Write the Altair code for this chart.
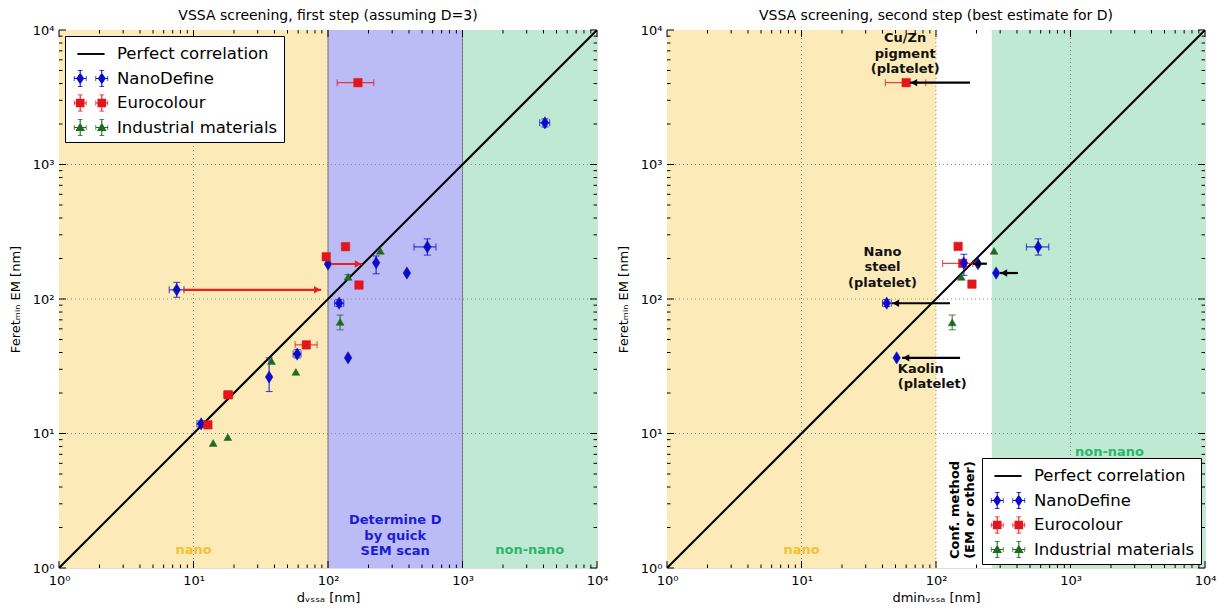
import altair as alt
import pandas as pd

# ---------------- data ----------------
SERIES = ["Perfect correlation", "NanoDefine", "Eurocolour", "Industrial materials"]
COLORS = ["#000000", "#0b0bc8", "#e3161c", "#1d6b1d"]

DIAG = [1, 10000]
DECADES = [1, 10, 100, 1000, 10000]

# Step 1: x = d_VSSA (assuming D=3), y = Feret_min EM
ND1_x = [7.5, 11.4, 36.5, 59, 100, 121, 141, 228, 386, 548, 4100]
ND1_y = [117, 11.8, 26.3, 39, 182, 93, 36.5, 186, 156, 244, 2040]
ND1_xlo = [6.6, 10.6, 36.5, 55, 100, 112, 141, 228, 386, 436, 3750]
ND1_xhi = [8.5, 12.2, 36.5, 63, 100, 131, 141, 228, 386, 635, 4450]
ND1_ylo = [103, 11.2, 20.5, 36.5, 182, 88, 36.5, 154, 156, 212, 1900]
ND1_yhi = [133, 12.4, 36.5, 42, 182, 99, 36.5, 209, 156, 280, 2180]

EC1_x = [12.8, 18.1, 69, 97, 135, 167, 170]
EC1_y = [11.6, 19.4, 45.6, 206, 245, 4060, 127]
EC1_xlo = [12.8, 16.8, 57, 97, 135, 117, 170]
EC1_xhi = [12.8, 19.6, 83, 97, 135, 219, 170]

IM1_x = [14, 18, 38, 57.7, 123, 141, 245]
IM1_y = [8.5, 9.4, 34.6, 28.7, 67.5, 146, 228]
IM1_ylo = [8.5, 9.4, 34.6, 28.7, 59, 140, 228]
IM1_yhi = [8.5, 9.4, 34.6, 28.7, 76, 152, 228]

# Step 2: x = dmin_VSSA (best estimate for D)
ND2_x = [43, 51, 161, 205, 280, 575]
ND2_y = [93, 36.5, 185, 183, 156, 244]
ND2_xlo = [40, 51, 161, 205, 280, 470]
ND2_xhi = [46.5, 51, 161, 205, 280, 690]
ND2_ylo = [88, 36.5, 150, 183, 156, 212]
ND2_yhi = [99, 36.5, 215, 183, 156, 280]

EC2_x = [60, 146, 158, 185]
EC2_y = [4060, 246, 184, 129]
EC2_xlo = [42, 146, 112, 185]
EC2_xhi = [84, 146, 188, 185]

IM2_x = [132, 154, 270]
IM2_y = [67, 146, 228]
IM2_ylo = [59, 146, 228]
IM2_yhi = [76, 146, 228]

# arrows (start x, end x, y)
ARR1_x0 = [8.4, 105]
ARR1_x1 = [89, 179]
ARR1_y = [117, 182]
ARR2_x0 = [179, 127, 151, 239, 407]
ARR2_x1 = [64, 47, 56, 188, 299]
ARR2_y = [4060, 93, 36.5, 183, 156]

# shaded regions
REG1_lo = [1, 100, 1000]
REG1_hi = [100, 1000, 10000]
REG1_col = ["#fcebb9", "#bbbbf6", "#bfe9d3"]
REG2_lo = [1, 100, 260]
REG2_hi = [100, 260, 10000]
REG2_col = ["#fcebb9", "#ffffff", "#bfe9d3"]

# ---------------- styling ----------------
FONT = "DejaVu Sans"
W = 538
H = 538
SUP = "['\u2070','\u00b9','\u00b2','\u00b3','\u2074']"
LABEL_EXPR = "'10' + " + SUP + "[round(log(datum.value)/LN10)]"


def rect(x0, y0, x1, y1):
    return f"M{x0:.3f},{y0:.3f}H{x1:.3f}V{y1:.3f}H{x0:.3f}Z"


def legend_path(kind):
    if kind == "line":
        return rect(-1.13, -0.08, 1.13, 0.08)
    parts = []
    for c in (-0.9, 0.9):
        parts.append(rect(c - 0.5, -0.045, c + 0.5, 0.045))
        parts.append(rect(c - 0.045, -0.67, c + 0.045, 0.67))
        parts.append(rect(c - 0.53, -0.2, c - 0.47, 0.2))
        parts.append(rect(c + 0.47, -0.2, c + 0.53, 0.2))
        parts.append(rect(c - 0.2, -0.7, c + 0.2, -0.64))
        parts.append(rect(c - 0.2, 0.64, c + 0.2, 0.7))
        if kind == "diamond":
            parts.append(f"M{c:.3f},-0.5L{c+0.33:.3f},0L{c:.3f},0.5L{c-0.33:.3f},0Z")
        elif kind == "square":
            parts.append(rect(c - 0.36, -0.36, c + 0.36, 0.36))
        else:
            parts.append(f"M{c:.3f},-0.42L{c+0.4:.3f},0.3L{c-0.4:.3f},0.3Z")
    return " ".join(parts)


LEG_PATHS = [legend_path("line"), legend_path("diamond"),
             legend_path("square"), legend_path("triangle")]
THIN_DIAMOND = "M0,-1L0.62,0L0,1L-0.62,0Z"
MARKERS = {"NanoDefine": (THIN_DIAMOND, 150), "Eurocolour": ("square", 72),
           "Industrial materials": ("triangle-up", 62)}


def frame(x0, x1, y, ylo=None, yhi=None, xlo=None, xhi=None):
    return pd.DataFrame({
        "x": x0 if x1 is None else x1, "y": y,
        "xlo": xlo if xlo is not None else (x0 if x1 is None else x1),
        "xhi": xhi if xhi is not None else (x0 if x1 is None else x1),
        "ylo": ylo if ylo is not None else y,
        "yhi": yhi if yhi is not None else y,
    })


def panel(title, xtitle, reg_lo, reg_hi, reg_col, edges, series, arrows,
          arrow_color, arrow_dir, texts, legend_orient, legend_offset):
    xs = alt.Scale(type="log", domain=[1, 10000], nice=False)
    ys = alt.Scale(type="log", domain=[1, 10000], nice=False)
    ax = alt.Axis(values=DECADES, labelExpr=LABEL_EXPR, grid=False, ticks=False,
                  domain=False, labelFont=FONT, labelFontSize=13, labelColor="black",
                  labelPadding=6, labelFlush=False, title=xtitle, titleFont=FONT,
                  titleFontSize=13, titleFontWeight="normal", titleColor="black",
                  titlePadding=4)
    ay = alt.Axis(values=DECADES, labelExpr=LABEL_EXPR, grid=False, ticks=False,
                  domain=False, labelFont=FONT, labelFontSize=13, labelColor="black",
                  labelPadding=5, labelFlush=False,
                  title="Feret\u2098\u1d62\u2099 EM [nm]", titleFont=FONT,
                  titleFontSize=13, titleFontWeight="normal", titleColor="black",
                  titlePadding=10)

    def X(f):
        return alt.X(f, type="quantitative", scale=xs, axis=ax)

    def Y(f):
        return alt.Y(f, type="quantitative", scale=ys, axis=ay)

    layers = []
    reg = pd.DataFrame({"lo": reg_lo, "hi": reg_hi, "col": reg_col})
    layers.append(alt.Chart(reg).mark_rect(clip=True).encode(
        x=X("lo"), x2="hi", y=alt.value(0), y2=alt.value(H),
        color=alt.Color("col:N", scale=None)))
    if edges:
        layers.append(alt.Chart(pd.DataFrame({"e": edges})).mark_rule(
            color="#777777", strokeWidth=1).encode(x=X("e"), y=alt.value(0), y2=alt.value(H)))
    # grid
    grid = pd.DataFrame({"g": DECADES[1:-1]})
    layers.append(alt.Chart(grid).mark_rule(color="#8a8a8a", strokeDash=[1, 3],
                                            strokeWidth=1).encode(
        x=X("g"), y=alt.value(0), y2=alt.value(H)))
    layers.append(alt.Chart(grid).mark_rule(color="#8a8a8a", strokeDash=[1, 3],
                                            strokeWidth=1).encode(
        y=Y("g"), x=alt.value(0), x2=alt.value(W)))
    # inward ticks
    minor = pd.DataFrame({"t": [m * 10 ** k for k in range(4) for m in range(2, 10)]})
    major = pd.DataFrame({"t": DECADES})
    for df, L in ((major, 7), (minor, 3.5)):
        layers.append(alt.Chart(df).mark_rule(color="black").encode(
            x=X("t"), y=alt.value(H), y2=alt.value(H - L)))
        layers.append(alt.Chart(df).mark_rule(color="black").encode(
            x=X("t"), y=alt.value(0), y2=alt.value(L)))
        layers.append(alt.Chart(df).mark_rule(color="black").encode(
            y=Y("t"), x=alt.value(0), x2=alt.value(L)))
        layers.append(alt.Chart(df).mark_rule(color="black").encode(
            y=Y("t"), x=alt.value(W), x2=alt.value(W - L)))
    # perfect correlation line
    layers.append(alt.Chart(pd.DataFrame({"a": DIAG, "b": DIAG})).mark_line(
        color="black", strokeWidth=2, clip=True).encode(x=X("a"), y=Y("b")))
    # series
    for name, df in series:
        col = COLORS[SERIES.index(name)]
        shp, sz = MARKERS[name]
        base = alt.Chart(df)
        layers.append(base.transform_filter("datum.xlo < datum.xhi").mark_rule(
            color=col, strokeWidth=1.2, opacity=0.8).encode(x=X("xlo"), x2="xhi", y=Y("y")))
        layers.append(base.transform_filter("datum.ylo < datum.yhi").mark_rule(
            color=col, strokeWidth=1.2, opacity=0.8).encode(y=Y("ylo"), y2="yhi", x=X("x")))
        for f in ("xlo", "xhi"):
            layers.append(base.transform_filter("datum.xlo < datum.xhi").mark_tick(
                orient="vertical", size=7, thickness=1, color=col, opacity=0.8).encode(
                x=X(f), y=Y("y")))
        for f in ("ylo", "yhi"):
            layers.append(base.transform_filter("datum.ylo < datum.yhi").mark_tick(
                orient="horizontal", size=7, thickness=1, color=col, opacity=0.8).encode(
                y=Y(f), x=X("x")))
        layers.append(base.mark_point(filled=True, shape=shp, size=sz, color=col,
                                      opacity=1, stroke=col, strokeWidth=0.5).encode(
            x=X("x"), y=Y("y")))
    # arrows
    adf = pd.DataFrame({"x0": arrows[0], "x1": arrows[1], "y": arrows[2]})
    off = -4 if arrow_dir == "right" else 4
    layers.append(alt.Chart(adf).mark_rule(color=arrow_color, strokeWidth=2.2).encode(
        x=X("x0"), x2="x1", y=Y("y")))
    layers.append(alt.Chart(adf).mark_point(
        filled=True, shape="triangle-" + arrow_dir, size=55, color=arrow_color,
        opacity=1, xOffset=off).encode(x=X("x1"), y=Y("y")))
    # texts (y is the position of the first line)
    for t in texts:
        tdf = pd.DataFrame({"x": [t["x"]], "y": [t["y"]], "s": [t["s"]]})
        layers.append(alt.Chart(tdf).mark_text(
            font=FONT, fontSize=t.get("size", 13), fontWeight="bold", color=t["c"],
            align=t.get("align", "center"), baseline="middle", lineBreak="\n",
            lineHeight=t.get("lh", 15.5), angle=t.get("angle", 0)).encode(
            x=X("x"), y=Y("y"), text="s:N"))
    # legend (driven by invisible, clipped points)
    leg = alt.Legend(title=None, orient=legend_orient, offset=legend_offset,
                     strokeColor="black", fillColor="white", padding=6,
                     cornerRadius=0, labelFont=FONT, labelFontSize=16.5,
                     labelColor="black", labelLimit=400, symbolSize=576,
                     symbolStrokeWidth=0, symbolOffset=8, labelOffset=14,
                     rowPadding=3.5, symbolOpacity=1, symbolLimit=0)
    layers.append(alt.Chart(pd.DataFrame({"series": SERIES})).mark_point(
        filled=True, clip=True, opacity=1).encode(
        x=alt.value(-200), y=alt.value(-200),
        color=alt.Color("series:N", scale=alt.Scale(domain=SERIES, range=COLORS),
                        legend=leg, sort=SERIES),
        shape=alt.Shape("series:N", scale=alt.Scale(domain=SERIES, range=LEG_PATHS),
                        legend=leg, sort=SERIES)))
    return alt.layer(*layers).properties(
        width=W, height=H,
        title=alt.TitleParams(title, font=FONT, fontSize=14, fontWeight="normal",
                              color="black", offset=1))


nd1 = frame(ND1_x, None, ND1_y, ND1_ylo, ND1_yhi, ND1_xlo, ND1_xhi)
ec1 = frame(EC1_x, None, EC1_y, None, None, EC1_xlo, EC1_xhi)
im1 = frame(IM1_x, None, IM1_y, IM1_ylo, IM1_yhi)
nd2 = frame(ND2_x, None, ND2_y, ND2_ylo, ND2_yhi, ND2_xlo, ND2_xhi)
ec2 = frame(EC2_x, None, EC2_y, None, None, EC2_xlo, EC2_xhi)
im2 = frame(IM2_x, None, IM2_y, IM2_ylo, IM2_yhi)

texts1 = [
    {"x": 10, "y": 1.36, "s": "nano", "c": "#f2c12e"},
    {"x": 316, "y": 2.27, "s": "Determine D\nby quick\nSEM scan", "c": "#1c1cd6"},
    {"x": 3162, "y": 1.36, "s": "non-nano", "c": "#2bb56a"},
]
texts2 = [
    {"x": 10, "y": 1.36, "s": "nano", "c": "#f2c12e"},
    {"x": 1950, "y": 7.3, "s": "non-nano", "c": "#2bb56a"},
    {"x": 138, "y": 2.7, "s": "Conf. method\n(EM or other)", "c": "black", "angle": 270},
    {"x": 59, "y": 8700, "s": "Cu/Zn\npigment\n(platelet)", "c": "#111111"},
    {"x": 40, "y": 224, "s": "Nano\nsteel\n(platelet)", "c": "#111111"},
    {"x": 52, "y": 30.2, "s": "Kaolin\n(platelet)", "c": "#111111", "align": "left"},
]

left = panel("VSSA screening, first step (assuming D=3)", "d\u1d65\u209b\u209b\u2090 [nm]",
             REG1_lo, REG1_hi, REG1_col, [100, 1000],
             [("NanoDefine", nd1), ("Eurocolour", ec1), ("Industrial materials", im1)],
             (ARR1_x0, ARR1_x1, ARR1_y), "#e8231e", "right", texts1, "top-left", 6)
right = panel("VSSA screening, second step (best estimate for D)",
              "dmin\u1d65\u209b\u209b\u2090 [nm]",
              REG2_lo, REG2_hi, REG2_col, [],
              [("Eurocolour", ec2), ("NanoDefine", nd2), ("Industrial materials", im2)],
              (ARR2_x0, ARR2_x1, ARR2_y), "#000000", "left", texts2, "bottom-right", 4)

chart = alt.hconcat(left, right, spacing=7).resolve_scale(
    color="independent", shape="independent").resolve_legend(
    color="independent", shape="independent").properties(padding=0).configure_view(
    stroke="black", strokeWidth=1.2).configure(background="white")

chart.save("out.html", embed_options={"renderer": "svg", "actions": False})
